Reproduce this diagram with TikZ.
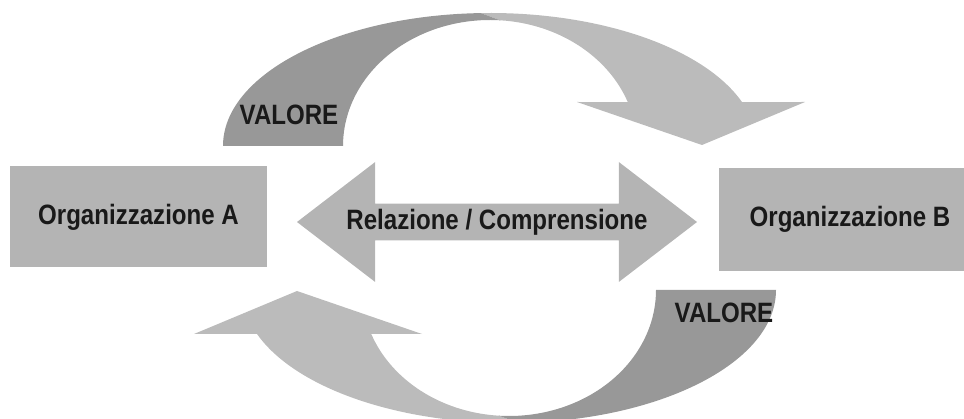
\documentclass[tikz,border=0pt]{standalone}
\usepackage{fontspec}
\newfontfamily\diagfont[FakeStretch=0.86]{Liberation Sans}
\usetikzlibrary{shapes.arrows}

\definecolor{boxgray}{RGB}{180,180,180}
\definecolor{headgray}{RGB}{187,187,187}
\definecolor{bodygray}{RGB}{152,152,152}
\definecolor{inkgray}{RGB}{25,25,25}

\begin{document}
\begin{tikzpicture}[x=1pt, y=1pt,
    txt/.style={font=\diagfont\bfseries\fontsize{28}{32}\selectfont, text=inkgray},
    orgbox/.style={txt, fill=boxgray, inner sep=0pt, minimum height=101pt}]
    \useasboundingbox (0,0) rectangle (964,418);
    \clip (0,0) rectangle (964,418);

    % Curved arrows (the lower one is the upper one turned round)
    \foreach \rot in {0,180} {
        \begin{scope}[rotate around={\rot:(499.5,200)}, shift={(490,272)}]
            \fill[headgray] (92:267 and 133) arc[start angle=92, end angle=19.3, x radius=267, y radius=133]
                -- (315,44) -- (212,1) -- (87,44)
                -- (20.4:147 and 126) arc[start angle=20.4, end angle=86, x radius=147, y radius=126] -- cycle;
            \fill[bodygray] (180:267 and 133) arc[start angle=180, end angle=92, x radius=267, y radius=133]
                -- (86:147 and 126) arc[start angle=86, end angle=180, x radius=147, y radius=126] -- cycle;
        \end{scope}
    }

    % Organisations
    \node[orgbox, minimum width=257pt] (orgA) at (138.5,201) {Organizzazione A};
    \node[orgbox, minimum width=262pt, minimum height=103pt] (orgB) at (850,198.5) {Organizzazione B};

    % Relation arrow
    \node[txt, double arrow, fill=boxgray, inner sep=0pt,
          minimum height=400pt, minimum width=120pt,
          double arrow head extend=30pt, double arrow tip angle=75] (rel) at (497,196) {Relazione / Comprensione};

    % Labels
    \node[txt] (valA) at (289,303) {VALORE};
    \node[txt] (valB) at (724,105) {VALORE};
\end{tikzpicture}
\end{document}
